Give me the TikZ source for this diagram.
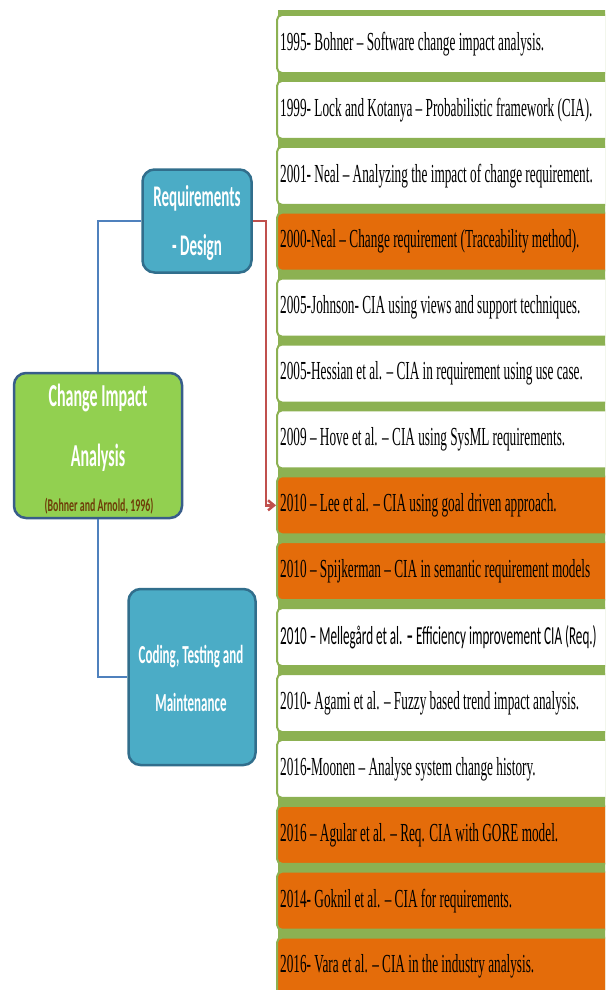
\documentclass[tikz,border=0pt]{standalone}
\usepackage{fontspec}
\usetikzlibrary{arrows.meta}
\newfontfamily\tnrfont[FakeStretch=0.51]{Liberation Serif}
\newfontfamily\calfont[FakeStretch=0.5]{Carlito}
\newfontfamily\calfontcite[FakeStretch=0.55]{Carlito}
\newfontfamily\calfontmell[FakeStretch=0.505]{Carlito}
\definecolor{boxgreen}{RGB}{140,177,82}
\definecolor{boxorange}{RGB}{228,108,10}
\definecolor{cialime}{RGB}{146,208,80}
\definecolor{ciaedge}{RGB}{56,93,138}
\definecolor{teal}{RGB}{75,172,198}
\definecolor{tealedge}{RGB}{49,110,140}
\definecolor{linkblue}{RGB}{79,129,189}
\definecolor{linkred}{RGB}{192,80,77}
\definecolor{citebrown}{RGB}{110,62,8}
\tikzset{
  entry/.style={draw=boxgreen, line width=2pt, rounded corners=5pt, fill=white, minimum height=58pt, minimum width=340pt, anchor=north west, inner sep=0pt},
  hot/.style={fill=boxorange},
  entrytext/.style={anchor=west, inner sep=0pt, font=\tnrfont\fontsize{26}{28}\selectfont, text=black},
  topic/.style={draw=tealedge, line width=2.5pt, rounded corners=12pt, fill=teal, inner sep=0pt},
  title/.style={text=white, inner sep=0pt, anchor=center},
  link/.style={line width=2.5pt, draw=linkblue},
}
\begin{document}
\begin{tikzpicture}[x=1pt,y=-1pt]
\useasboundingbox (0,0) rectangle (605,990);
\clip (0,0) rectangle (605,990);
% green band behind the list
\fill[boxgreen] (278,10) rectangle (620,1000);
% entries
\foreach \i/\hot/\txt in {
 0/0/{1995- Bohner – Software change impact analysis.},
 1/0/{1999- Lock and Kotanya – Probabilistic framework (CIA).},
 2/0/{2001- Neal – Analyzing the impact of change requirement.},
 3/1/{2000-Neal – Change requirement (Traceability method).},
 4/0/{2005-Johnson- CIA using views and support techniques.},
 5/0/{2005-Hessian et al. – CIA in requirement using use case.},
 6/0/{2009 – Hove et al. – CIA using SysML requirements.},
 7/1/{2010 – Lee et al. – CIA using goal driven approach.},
 8/1/{2010 – Spijkerman – CIA in semantic requirement models},
 9/0/{},
 10/0/{2010- Agami et al. – Fuzzy based trend impact analysis.},
 11/0/{2016-Moonen – Analyse system change history.},
 12/1/{2016 – Agular et al. – Req. CIA with GORE model.},
 13/1/{2014- Goknil et al. – CIA for requirements.},
 14/1/{2016- Vara et al. – CIA in the industry analysis.}}{
  \pgfmathsetmacro{\ytop}{14+65.9*\i}
  \ifnum\hot=1
    \node[entry, hot] (e\i) at (276,\ytop) {};
  \else
    \node[entry] (e\i) at (276,\ytop) {};
  \fi
  \node[entrytext] (t\i) at ([xshift=4pt]e\i.west) {\txt};
}
\node[entrytext, font=\calfontmell\fontsize{26}{28}\selectfont] (t9b) at ([xshift=4pt]e9.west) {2010 – Mellegård et al. \textbf{–} Efficiency improvement CIA (Req.)};
% main box
\node[draw=ciaedge, line width=2.5pt, rounded corners=12pt, fill=cialime, minimum width=168pt, minimum height=145pt, inner sep=0pt] (cia) at (98,445.5) {};
\node[title, font=\calfont\bfseries\fontsize{32}{32}\selectfont] (cia1) at (98,398) {Change Impact};
\node[title, font=\calfont\bfseries\fontsize{32}{32}\selectfont] (cia2) at (98,458) {Analysis};
\node[title, text=citebrown, font=\calfontcite\bfseries\fontsize{18}{18}\selectfont] (cia3) at (99,506) {(Bohner and Arnold, 1996)};
% topic boxes
\node[topic, minimum width=109pt, minimum height=103pt] (req) at (197,221) {};
\node[title, font=\calfont\bfseries\fontsize{30}{30}\selectfont] (req1) at (197,198) {Requirements};
\node[title, font=\calfont\bfseries\fontsize{30}{30}\selectfont] (req2) at (197,248) {- Design};
\node[topic, minimum width=127pt, minimum height=176pt] (code) at (192,677) {};
\node[title, font=\calfont\bfseries\fontsize{26}{26}\selectfont] (code1) at (191,657) {Coding, Testing and};
\node[title, font=\calfont\bfseries\fontsize{26}{26}\selectfont] (code2) at (191,702) {Maintenance};
% connectors
\draw[link] (cia.north) |- (req.west);
\draw[link] (cia.south) |- (code.west);
\draw[line width=2.5pt, draw=linkred, -{Straight Barb[length=6pt,width=10pt]}] (req.east) -- ++(13,0) |- (e7.west);
\end{tikzpicture}
\end{document}
